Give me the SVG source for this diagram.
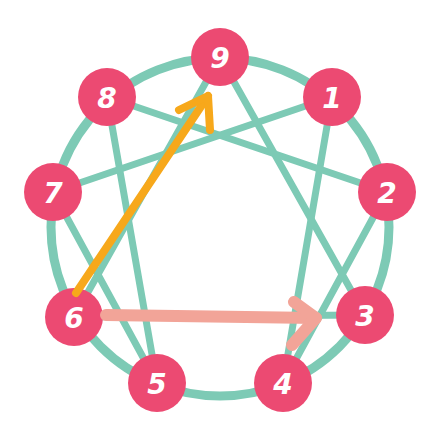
<svg xmlns="http://www.w3.org/2000/svg" width="440" height="440" viewBox="0 0 440 440">
<style>
.ring{fill:none;stroke:#7dcab5;stroke-width:9}
.ln{stroke:#7dcab5;stroke-width:7;stroke-linecap:round;fill:none}
.node circle{fill:#ec4a72}
.node text{fill:#ffffff;font-family:"DejaVu Sans",sans-serif;font-weight:bold;font-style:italic;font-size:28px;text-anchor:middle;dominant-baseline:central}
.orange{stroke:#f7a81b;stroke-width:8;stroke-linecap:round;stroke-linejoin:round;fill:none}
.pink{stroke:#f2a498;stroke-width:12;stroke-linecap:round;stroke-linejoin:round;fill:none}
</style>
<rect width="440" height="440" fill="#ffffff"/>
<g id="connectors">
<circle class="ring" cx="220" cy="227" r="169"/>
<line class="ln" x1="220" y1="57" x2="365" y2="315"/>
<line class="ln" x1="220" y1="57" x2="74" y2="317"/>
<line class="ln" x1="74" y1="317" x2="365" y2="315"/>
<line class="ln" x1="332" y1="97" x2="283" y2="383"/>
<line class="ln" x1="283" y1="383" x2="387" y2="192"/>
<line class="ln" x1="387" y1="192" x2="107" y2="97"/>
<line class="ln" x1="107" y1="97" x2="157" y2="383"/>
<line class="ln" x1="157" y1="383" x2="53" y2="192"/>
<line class="ln" x1="53" y1="192" x2="332" y2="97"/>
</g>
<g id="node-9" class="node"><circle cx="220" cy="57" r="29"/><text x="220" y="58">9</text></g>
<g id="node-1" class="node"><circle cx="332" cy="97" r="29"/><text x="332" y="98">1</text></g>
<g id="node-2" class="node"><circle cx="387" cy="192" r="29"/><text x="387" y="193">2</text></g>
<g id="node-3" class="node"><circle cx="365" cy="315" r="29"/><text x="365" y="316">3</text></g>
<g id="node-4" class="node"><circle cx="283" cy="383" r="29"/><text x="283" y="384">4</text></g>
<g id="node-5" class="node"><circle cx="157" cy="383" r="29"/><text x="157" y="384">5</text></g>
<g id="node-6" class="node"><circle cx="74" cy="317" r="29"/><text x="74" y="318">6</text></g>
<g id="node-7" class="node"><circle cx="53" cy="192" r="29"/><text x="53" y="193">7</text></g>
<g id="node-8" class="node"><circle cx="107" cy="97" r="29"/><text x="107" y="98">8</text></g>
<g id="arrows">
<path class="orange" d="M76 293 L208 96"/>
<path class="orange" d="M179 110 L208 96 L210 130"/>
<path class="pink" d="M106 315 L316 318"/>
<path class="pink" d="M294 302 L316 318 L292 345"/>
</g>
</svg>
